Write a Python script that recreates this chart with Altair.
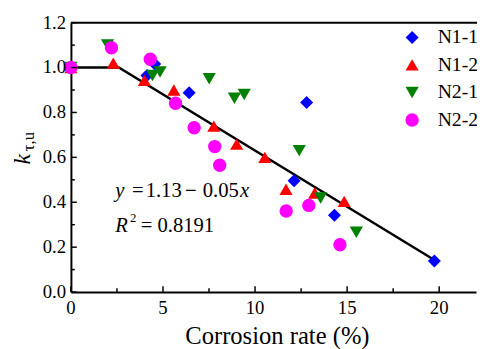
import altair as alt
import pandas as pd

# ---- data ----
series_names = ["N1-1", "N1-2", "N2-1", "N2-2"]
n11_x = [0, 4.13, 4.55, 6.42, 12.12, 12.8, 14.31, 19.74]
n11_y = [1.0, 0.965, 1.016, 0.888, 0.496, 0.844, 0.342, 0.138]
n12_x = [0, 2.3, 3.99, 5.59, 7.76, 9.0, 10.53, 11.68, 13.24, 14.84]
n12_y = [1.0, 1.02, 0.943, 0.90, 0.739, 0.659, 0.60, 0.458, 0.441, 0.404]
n21_x = [0, 1.99, 4.43, 4.84, 7.51, 8.88, 9.41, 12.4, 13.56, 15.5]
n21_y = [1.0, 1.10, 0.965, 0.98, 0.95, 0.863, 0.88, 0.63, 0.419, 0.266]
n22_x = [0, 2.2, 4.31, 5.68, 6.69, 7.81, 8.08, 11.69, 12.92, 14.61]
n22_y = [1.0, 1.088, 1.037, 0.841, 0.732, 0.648, 0.565, 0.361, 0.386, 0.211]
fit_x = [0, 2.6, 19.74]
fit_y = [1.0, 1.0, 0.143]

x_ticks_major = [0, 5, 10, 15, 20]
x_ticks_minor = [2.5, 7.5, 12.5, 17.5]
y_ticks_major = [0.0, 0.2, 0.4, 0.6, 0.8, 1.0, 1.2]
y_ticks_minor = [0.1, 0.3, 0.5, 0.7, 0.9, 1.1]
x_tick_labels = ["0", "5", "10", "15", "20"]
y_tick_labels = ["0.0", "0.2", "0.4", "0.6", "0.8", "1.0", "1.2"]
x_title = "Corrosion rate (%)"

colors = ["#0000FF", "#FF0000", "#008000", "#FF00FF"]
shapes = ["diamond", "triangle-up", "triangle-down", "circle"]
sizes = [175, 185, 175, 110]

FONT = "Liberation Serif"
W, H = 412, 274

rows = []
for name, xs, ys in zip(series_names, [n11_x, n12_x, n21_x, n22_x], [n11_y, n12_y, n21_y, n22_y]):
    for a, b in zip(xs, ys):
        rows.append({"series": name, "x": a, "y": b})
pts = pd.DataFrame(rows)
fit = pd.DataFrame({"x": fit_x, "y": fit_y})

xscale = alt.Scale(domain=[0, 22], nice=False, zero=False)
yscale = alt.Scale(domain=[0, 1.2], nice=False, zero=False)
xaxis = alt.Axis(values=x_ticks_major, ticks=False, grid=False, labels=False,
                 domainColor="black", domainWidth=2, title=None)
yaxis = alt.Axis(values=y_ticks_major, ticks=False, grid=False, labels=False,
                 domainColor="black", domainWidth=2, title=None)

line = alt.Chart(fit).mark_line(color="black", strokeWidth=2.5).encode(
    x=alt.X("x:Q", scale=xscale, axis=xaxis),
    y=alt.Y("y:Q", scale=yscale, axis=yaxis),
)

points = alt.Chart(pts).mark_point(filled=True, opacity=1, strokeWidth=0).encode(
    x=alt.X("x:Q", scale=xscale, axis=xaxis),
    y=alt.Y("y:Q", scale=yscale, axis=yaxis),
    color=alt.Color("series:N", scale=alt.Scale(domain=series_names, range=colors), title=None,
                    legend=alt.Legend(orient="none", legendX=337, legendY=5)),
    shape=alt.Shape("series:N", scale=alt.Scale(domain=series_names, range=shapes), title=None),
    size=alt.Size("series:N", scale=alt.Scale(domain=series_names, range=sizes), title=None),
    order=alt.Order("idx:Q"),
).transform_window(idx="row_number()")

ytm = alt.Chart(pd.DataFrame({"v": y_ticks_major})).mark_rule(color="black", strokeWidth=1.5).encode(
    y=alt.Y("v:Q", scale=yscale, axis=yaxis), x=alt.value(0), x2=alt.value(6))
ytn = alt.Chart(pd.DataFrame({"v": y_ticks_minor})).mark_rule(color="black", strokeWidth=1.5).encode(
    y=alt.Y("v:Q", scale=yscale, axis=yaxis), x=alt.value(0), x2=alt.value(4))
xtm = alt.Chart(pd.DataFrame({"v": x_ticks_major})).mark_rule(color="black", strokeWidth=1.5).encode(
    x=alt.X("v:Q", scale=xscale, axis=xaxis), y=alt.value(H), y2=alt.value(H - 6))
xtn = alt.Chart(pd.DataFrame({"v": x_ticks_minor})).mark_rule(color="black", strokeWidth=1.5).encode(
    x=alt.X("v:Q", scale=xscale, axis=xaxis), y=alt.value(H), y2=alt.value(H - 4))

# tick labels drawn through the scales
xlab = alt.Chart(pd.DataFrame({"v": x_ticks_major, "t": x_tick_labels})).mark_text(
    font=FONT, fontSize=19, color="black", align="center", baseline="top").encode(
    x=alt.X("v:Q", scale=xscale, axis=xaxis), y=alt.value(H + 7), text="t:N")
ylab = alt.Chart(pd.DataFrame({"v": y_ticks_major, "t": y_tick_labels})).mark_text(
    font=FONT, fontSize=19, color="black", align="right", baseline="middle").encode(
    y=alt.Y("v:Q", scale=yscale, axis=yaxis), x=alt.value(-5), text="t:N")

top = alt.Chart(pd.DataFrame({"a": [0]})).mark_rule(color="black", strokeWidth=2).encode(
    x=alt.value(0), x2=alt.value(W + 10), y=alt.value(0))

def txt(s, x, y, size=21, style="normal", angle=0, align="left", baseline="alphabetic"):
    kw = dict(text=s, font=FONT, fontSize=size, fontStyle=style, color="black",
              align=align, baseline=baseline)
    if angle:
        kw["angle"] = angle
    return alt.Chart(pd.DataFrame({"a": [0]})).mark_text(**kw).encode(x=alt.value(x), y=alt.value(y))

texts = [
    # x-axis title
    txt(x_title, 210, 327, size=25, align="center"),
    # y-axis title k_{tau,u}
    txt("k", -42, 139, size=24, style="italic", angle=270, align="center"),
    txt("τ,u", -38, 121, size=17, angle=270, align="center"),
    # equation
    txt("y", 45, 177, style="italic"),
    txt("=", 62, 177),
    txt("1.13", 76, 177),
    txt("−", 116, 177),
    txt("0.05", 134, 177),
    txt("x", 172, 177, style="italic"),
    # R^2
    txt("R", 45, 213, style="italic"),
    txt("2", 60, 203, size=13),
    txt("=", 71, 213),
    txt("0.8191", 88, 213),
]

chart = alt.layer(line, points, ytm, ytn, xtm, xtn, xlab, ylab, top, *texts).resolve_scale(
    color="shared", shape="shared", size="shared"
).properties(
    width=W, height=H,
    autosize=alt.AutoSizeParams(type="none"),
    padding={"left": 64, "top": 12, "right": 1, "bottom": 55},
).configure(
    font=FONT, background="white",
).configure_view(strokeWidth=0).configure_legend(
    labelFont=FONT, labelFontSize=20, labelColor="black", rowPadding=8, labelOffset=16,
    symbolStrokeWidth=0, padding=0,
)

chart.save("out.html", embed_options={"renderer": "svg", "actions": False})
